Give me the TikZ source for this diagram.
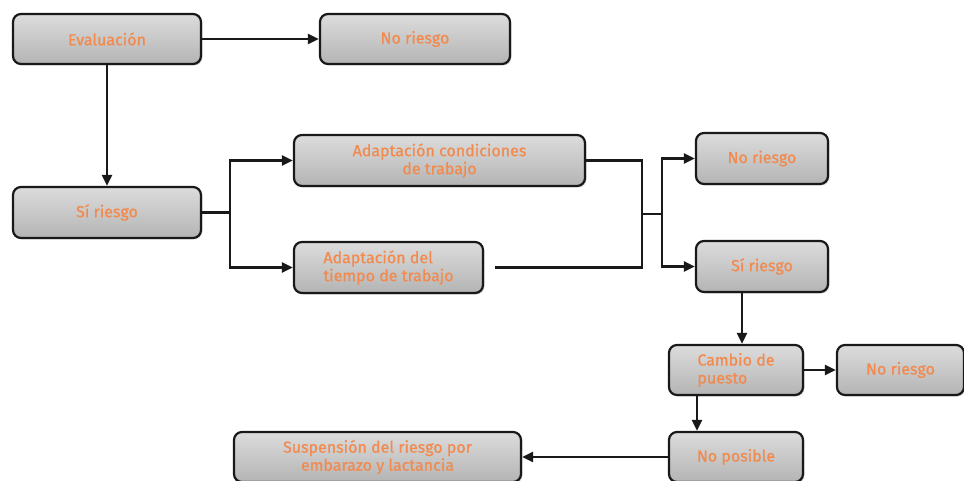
\documentclass[tikz,border=0pt]{standalone}
\usetikzlibrary{arrows.meta, positioning, shadows}
\usepackage{xcolor}
\usepackage{fontspec}
\setmainfont{Fira Sans}
\newfontfamily\boxfont{Fira Sans}[FakeBold=0.7]
\definecolor{boxtext}{HTML}{F28A4E}
\definecolor{boxtop}{HTML}{DCDCDC}
\definecolor{boxbottom}{HTML}{B4B4B4}

\begin{document}
\begin{tikzpicture}[x=1pt, y=-1pt, line width=2.2pt, >={Triangle[length=11pt,width=10pt]}]
    \tikzstyle{box}=[draw=black!90, rounded corners=8pt, top color=boxtop, bottom color=boxbottom,
        text=boxtext, font=\boxfont\fontsize{16}{18}\selectfont, inner sep=2pt,
        drop shadow={shadow xshift=1.5pt, shadow yshift=-1.5pt, opacity=0.3}]
    \tikzstyle{link}=[line width=2.2pt, draw=black!90]

    \useasboundingbox (0,0) rectangle (964,481);

    % top row
    \node[box, minimum width=188pt, minimum height=50pt] (eval) at (107,39) {Evaluación};
    \node[box, minimum width=190pt, minimum height=50pt] (noR1) at (415,39) {No riesgo};

    % adaptation
    \node[box, minimum width=188pt, minimum height=51pt] (siR1) at (107,212.5) {Sí riesgo};
    \node[box, minimum width=291pt, minimum height=51pt, align=center] (adC) at (439.5,160.5) {Adaptación condiciones\\de trabajo};
    \node[box, minimum width=189pt, minimum height=51pt, align=left] (adT) at (388.5,267.5) {Adaptación del\\tiempo de trabajo};

    \node[box, minimum width=132pt, minimum height=51pt] (noR2) at (762,158.5) {No riesgo};
    \node[box, minimum width=132pt, minimum height=51pt] (siR2) at (762,266.5) {Sí riesgo};

    % change of post
    \node[box, minimum width=134pt, minimum height=50pt, align=left] (cambio) at (736,370) {Cambio de\\puesto};
    \node[box, minimum width=127pt, minimum height=50pt] (noR3) at (900.5,370) {No riesgo};
    \node[box, minimum width=134pt, minimum height=50pt] (noPos) at (736,457) {No posible};
    \node[box, minimum width=287pt, minimum height=50pt, align=center] (susp) at (377.5,457) {Suspensión del riesgo por\\embarazo y lactancia};

    \coordinate (split1) at (230,212.5);
    \coordinate (merge) at (642,214);
    \coordinate (split2) at (662,214);

    \draw[link,->] (eval) -- (noR1);
    \draw[link,->] (eval) -- (siR1);

    \draw[link] (siR1.east) -- (split1);
    \draw[link,->] (split1) |- (adC.west);
    \draw[link,->] (split1) |- (adT.west);

    \draw[link] (adC.east) -| (merge);
    \draw[link] ([xshift=11pt]adT.east) -| (merge);
    \draw[link] (merge) -- (split2);
    \draw[link,->] (split2) |- (noR2.west);
    \draw[link,->] (split2) |- (siR2.west);

    \draw[link,->] ([xshift=-20pt]siR2.south) -- ([xshift=-20pt]siR2.south |- cambio.north);
    \draw[link,->] (cambio) -- (noR3);
    \draw[link,->] ([xshift=-39pt]cambio.south) -- ([xshift=-39pt]noPos.north);
    \draw[link,->] (noPos) -- (susp);
\end{tikzpicture}
\end{document}
